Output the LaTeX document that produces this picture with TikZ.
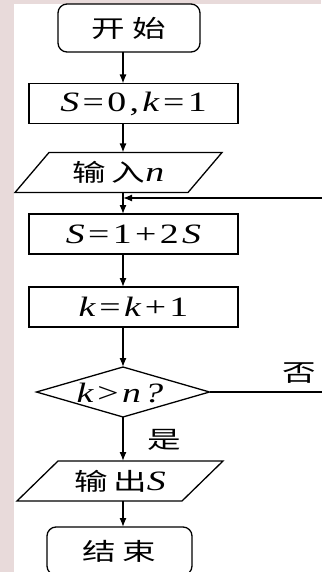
\documentclass[tikz,border=0pt]{standalone}
\usepackage{fontspec}
\usepackage{graphicx}
\setmainfont{Liberation Serif}
\newfontfamily\cjk{Noto Sans CJK SC}
\usetikzlibrary{arrows.meta,shapes.geometric}
\definecolor{pinkbg}{RGB}{232,218,218}
\newcommand{\mt}[1]{\scalebox{1.35}[1]{\fontsize{28}{28}\selectfont #1}}
\newcommand{\ct}[1]{\scalebox{1.4}[1]{\fontsize{24}{24}\selectfont\cjk #1}}
\newcommand{\gp}{\hspace{2.5pt}}
\begin{document}
\begin{tikzpicture}[x=1pt,y=-1pt, line width=1.3pt,
  >={Latex[length=9pt,width=7pt]},
  box/.style={draw, minimum width=209, minimum height=40, inner sep=0, outer sep=0},
  term/.style={draw, rounded corners=9pt, minimum height=48, inner sep=0, outer sep=0},
  io/.style={minimum height=40, inner sep=0, outer sep=0},
  dec/.style={draw, diamond, minimum width=173, minimum height=50, inner sep=0, outer sep=0},
  lbl/.style={inner sep=0}]
\useasboundingbox (0,0) rectangle (321,572);
\fill[white] (0,0) rectangle (321,572);
\fill[pinkbg] (0,0) rectangle (14,572);
\fill[pinkbg] (0,0) rectangle (321,4);
\coordinate (spine) at (123,0);
% nodes
\node[term, minimum width=142] (start) at (129,28) {\ct{开\hspace{5pt}始}};
\node[box] (init) at (133.5,103.5) {\mt{\textit{S}\gp=\gp0\gp,\gp\textit{k}\gp=\gp1}};
\node[io, minimum width=173] (in) at (118.5,172.5) {\ct{输\hspace{4pt}入}\mt{\textit{n}}};
\draw ([xshift=17pt]in.north west) -- ([xshift=17pt]in.north east) -- ([xshift=-17pt]in.south east) -- ([xshift=-17pt]in.south west) -- cycle;
\node[box] (upd) at (133.5,234) {\mt{\textit{S}\gp=\gp1\gp+\gp2\gp\textit{S}}};
\node[box] (inc) at (133.5,307) {\mt{\textit{k}\gp=\gp\textit{k}\gp+\gp1}};
\node[dec] (cond) at (123,392) {};
\node[lbl] (condt) at (120,393) {\mt{\textit{k}\gp>\gp\textit{n}\gp\textit{?}}};
\node[io, minimum width=165] (out) at (120,481) {\ct{输\hspace{4pt}出}\mt{\textit{S}}};
\draw ([xshift=20.5pt]out.north west) -- ([xshift=20.5pt]out.north east) -- ([xshift=-20.5pt]out.south east) -- ([xshift=-20.5pt]out.south west) -- cycle;
\node[term, minimum width=145] (end) at (119.5,551) {\ct{结\hspace{5pt}束}};
% connectors
\draw[->] (start.south -| spine) -- (init.north -| spine);
\draw[->] (init.south -| spine) -- (in.north -| spine);
\draw[->] (in.south -| spine) -- (upd.north -| spine);
\draw[->] (upd.south -| spine) -- (inc.north -| spine);
\draw[->] (inc.south -| spine) -- (cond.north);
\draw[->] (cond.south) -- (out.north -| cond.south);
\draw[->] (out.south -| spine) -- (end.north -| spine);
\coordinate (loopR) at (322,198);
\coordinate (noR) at (322,392);
\draw[->] (loopR) -- (loopR -| spine);
\draw (cond.east) -- (noR);
\node[lbl] (no) at (299,373) {\ct{否}};
\node[lbl] (yes) at (164,440) {\ct{是}};
\end{tikzpicture}
\end{document}
